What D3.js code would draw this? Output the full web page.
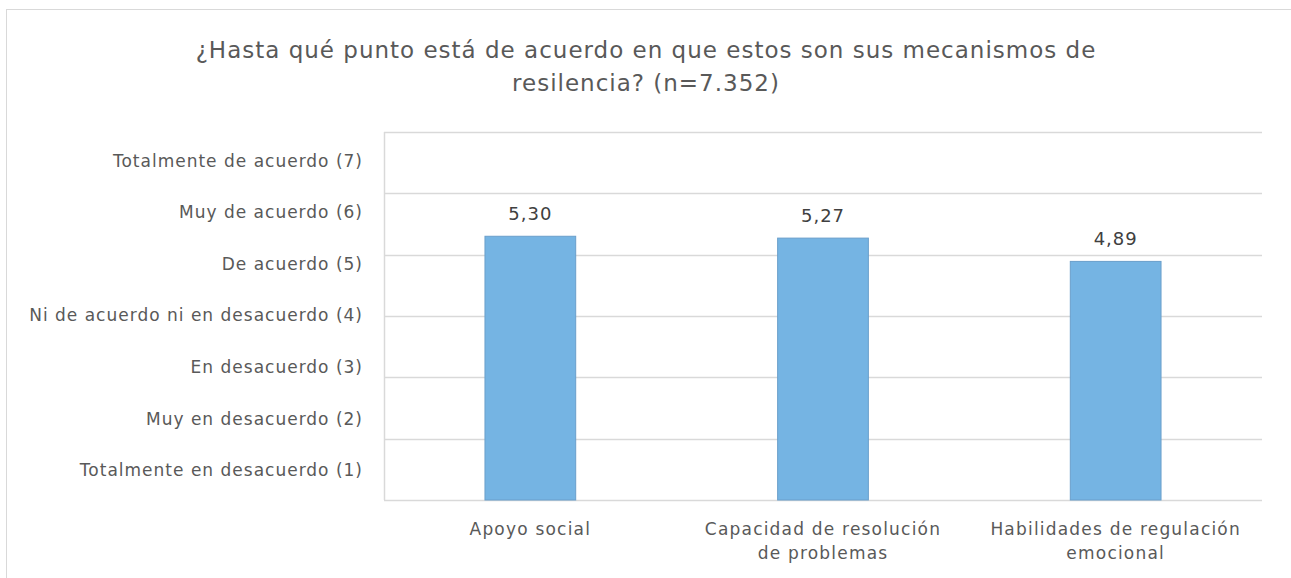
<!DOCTYPE html>
<html>
<head>
<meta charset="utf-8">
<script src="https://cdn.jsdelivr.net/npm/d3@7"></script>
<style>
  body { margin: 0; background: #fff; }
  text { font-family: "DejaVu Sans", sans-serif; fill: #595959; }
</style>
</head>
<body>
<div id="chart"></div>
<script>
'use strict';

// data
const categories = ['Apoyo social', 'Capacidad de resolución de problemas', 'Habilidades de regulación emocional'];
const categoryLines = [['Apoyo social'], ['Capacidad de resolución', 'de problemas'], ['Habilidades de regulación', 'emocional']];
const values = [5.30, 5.27, 4.89];
const scaleLabels = ['Totalmente de acuerdo (7)', 'Muy de acuerdo (6)', 'De acuerdo (5)',
  'Ni de acuerdo ni en desacuerdo (4)', 'En desacuerdo (3)', 'Muy en desacuerdo (2)', 'Totalmente en desacuerdo (1)'];
const titleLines = ['¿Hasta qué punto está de acuerdo en que estos son sus mecanismos de', 'resilencia? (n=7.352)'];

let width = 1291, height = 578;
let margin = {top: 132, left: 384, right: 29, bottom: 78};

let svg = d3.select('#chart').append('svg')
  .attr('width', width)
  .attr('height', height);

// outer frame
svg.append('rect')
  .attr('x', 6.5).attr('y', 9.5)
  .attr('width', 1300).attr('height', 600)
  .attr('fill', 'none')
  .attr('stroke', '#d9d9d9');

let x = d3.scaleBand()
  .domain(categories)
  .range([margin.left, width - margin.right])
  .paddingInner(0.69)
  .paddingOuter(0.345);

let y = d3.scaleLinear()
  .domain([1, 7])
  .range([height - margin.bottom, margin.top]);

// labels sit in their own evenly spaced slots
let yLab = d3.scaleBand()
  .domain(scaleLabels)
  .range([135, 496]);

// gridlines
svg.append('g')
  .selectAll('line')
  .data(y.ticks(6))
  .enter().append('line')
    .attr('x1', margin.left)
    .attr('x2', width - margin.right)
    .attr('y1', d => Math.round(y(d)) + 0.5)
    .attr('y2', d => Math.round(y(d)) + 0.5)
    .attr('stroke', '#d9d9d9')
    .attr('stroke-width', 1.5);

// left axis line
svg.append('line')
  .attr('x1', margin.left + 0.5).attr('x2', margin.left + 0.5)
  .attr('y1', y(7)).attr('y2', y(1))
  .attr('stroke', '#d9d9d9')
  .attr('stroke-width', 1.5);

// bars
svg.append('g')
  .selectAll('rect')
  .data(values)
  .enter().append('rect')
    .attr('x', (d, i) => x(categories[i]))
    .attr('width', x.bandwidth())
    .attr('y', d => y(d))
    .attr('height', d => y(1) - y(d))
    .attr('fill', '#75b4e3')
    .attr('stroke', '#6a9fcb')
    .attr('stroke-width', 1);

// value labels
svg.append('g')
  .selectAll('text')
  .data(values)
  .enter().append('text')
    .attr('x', (d, i) => x(categories[i]) + x.bandwidth() / 2)
    .attr('y', d => y(d) - 16)
    .attr('text-anchor', 'middle')
    .style('font-size', '18px')
    .style('letter-spacing', '1px')
    .style('fill', '#404040')
    .text(d => d.toFixed(2).replace('.', ','));

// y labels
svg.append('g')
  .selectAll('text')
  .data(scaleLabels)
  .enter().append('text')
    .attr('x', 363)
    .attr('y', d => yLab(d) + yLab.bandwidth() / 2)
    .attr('dy', '0.35em')
    .attr('text-anchor', 'end')
    .style('font-size', '17px')
    .style('letter-spacing', '1px')
    .text(d => d);

// x labels
let xl = svg.append('g')
  .selectAll('text')
  .data(categories)
  .enter().append('text')
    .attr('x', d => x(d) + x.bandwidth() / 2)
    .attr('y', 535)
    .attr('text-anchor', 'middle')
    .style('font-size', '17px')
    .style('letter-spacing', '1.2px');

xl.selectAll('tspan')
  .data((d, i) => categoryLines[i])
  .enter().append('tspan')
    .attr('x', function () { return d3.select(this.parentNode).attr('x'); })
    .attr('dy', (d, i) => i === 0 ? 0 : 24)
    .text(d => d);

// title
svg.append('g')
  .selectAll('text')
  .data(titleLines)
  .enter().append('text')
    .attr('x', 646)
    .attr('y', (d, i) => 58 + i * 33)
    .attr('text-anchor', 'middle')
    .style('font-size', '23px')
    .style('letter-spacing', '1px')
    .text(d => d);
</script>
</body>
</html>
